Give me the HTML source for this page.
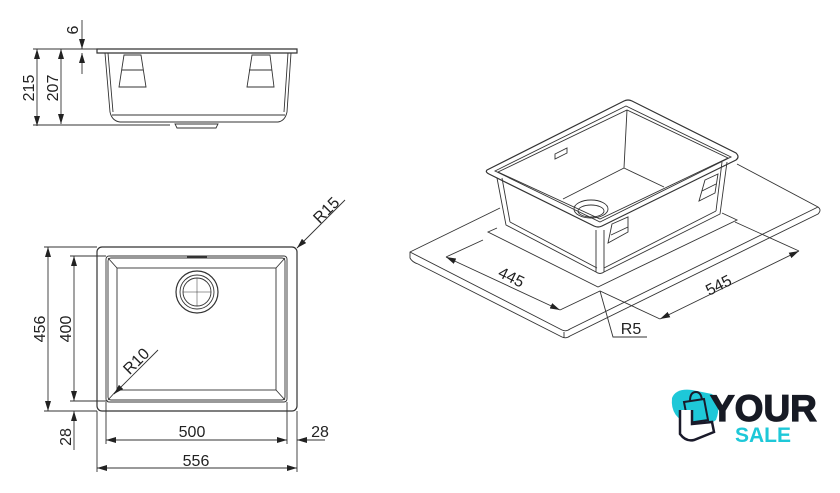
<!DOCTYPE html>
<html><head><meta charset="utf-8"><style>
html,body{margin:0;padding:0;background:#fff;width:840px;height:493px;overflow:hidden}
svg{display:block}
text{font-family:"Liberation Sans",sans-serif;fill:#222}
</style></head><body>
<svg width="840" height="493" viewBox="0 0 840 493" xmlns="http://www.w3.org/2000/svg">
<defs>
<marker id="a" viewBox="0 0 10 6" refX="10" refY="3" markerWidth="10" markerHeight="6" markerUnits="userSpaceOnUse" orient="auto-start-reverse"><path d="M0,0 L10,3 L0,6z" fill="#222"/></marker>
</defs>
<g fill="none" stroke="#333" stroke-width="0.9">
<!-- side view -->
<path d="M97,49 L297,49 L297,53 L97,53 Z" stroke-width="1.2"/>
<path d="M105,53 L110,112 Q112,121 120,122 L278,122 Q285,121 287,112 L291,53"/>
<path d="M108,53 L113,112 M288,53 L284,112 M112,115 L285,115"/>
<path d="M124,55 L141,55 L146,87 L119,87 Z M122,70 L143,70"/>
<path d="M252,55 L270,55 L274,87 L247,87 Z M249,70 L272,70"/>
<path d="M175,124 L218,124 L216,128 L177,128 Z"/>
<path d="M33,49 L97,49 M33,125 L170,125 M76,49 L93,49"/>
<line x1="37" y1="49" x2="37" y2="126" marker-start="url(#a)" marker-end="url(#a)"/>
<line x1="61" y1="49" x2="61" y2="124" marker-start="url(#a)" marker-end="url(#a)"/>
<line x1="82" y1="20" x2="82" y2="49" marker-end="url(#a)"/>
<line x1="82" y1="74" x2="82" y2="53" marker-end="url(#a)"/>
<!-- top view -->
<rect x="97" y="247" width="200" height="164" rx="5" stroke-width="1.2"/>
<rect x="106" y="256" width="181" height="146" rx="3"/>
<rect x="108" y="258" width="177" height="142" rx="3"/>
<rect x="117" y="268" width="159" height="122"/>
<path d="M108,258 L117,268 M285,258 L276,268 M108,400 L117,390 M285,400 L276,390"/>
<circle cx="197" cy="292" r="21" stroke-width="1.2"/>
<circle cx="197" cy="292" r="17"/>
<circle cx="197" cy="292" r="14"/>
<path d="M183,292 L211,292 M197,278 L197,306" stroke-width="0.5"/>
<path d="M187,257 L207,257" stroke-width="2"/>
<path d="M44,247 L97,247 M70,256 L106,256 M44,411 L97,411 M70,401 L108,401 M97,411 L97,472 M297,411 L297,472 M106,402 L106,444 M287,402 L287,444"/>
<line x1="48" y1="247" x2="48" y2="411" marker-start="url(#a)" marker-end="url(#a)"/>
<line x1="74" y1="256" x2="74" y2="401" marker-start="url(#a)" marker-end="url(#a)"/>
<line x1="74" y1="450" x2="74" y2="411" marker-end="url(#a)"/>
<line x1="106" y1="440" x2="287" y2="440" marker-start="url(#a)" marker-end="url(#a)"/>
<line x1="325" y1="440" x2="297" y2="440" marker-end="url(#a)"/>
<line x1="97" y1="468" x2="297" y2="468" marker-start="url(#a)" marker-end="url(#a)"/>
<line x1="345" y1="200" x2="297" y2="248" marker-end="url(#a)"/>
<line x1="158" y1="350" x2="114" y2="394" marker-end="url(#a)"/>
<!-- iso countertop -->
<path d="M500,208 L410,252 L410,258 Q412,262 418,264 L562,337 Q566,339 570,336 L818,214 Q822,210 818,207 L737,164"/>
<path d="M410,252 L562,330 Q566,332 570,329 L818,207"/>
<path d="M564,332 L564,338"/>
<path d="M497,228 L488,232 L598,287 L737,220 L722,213"/>
<!-- sink -->
<path d="M487,170 L624,101 Q628,99 632,101 L736,153 Q740,157 736,160 L602,226 Q598,228 594,226 L489,174 Q485,172 487,170 Z" stroke-width="1.2"/>
<path d="M495,171 L626,106 L731,157 L600,222 Z"/>
<path d="M498,172 L627,110 L728,158 L600,219 Z"/>
<path d="M627,110 L624,168 M624,168 L563,199 M624,168 L664,187"/>
<path d="M497,178 L506,225 L596,272 Q600,275 604,272 L720,214 L727,162"/>
<path d="M502,178 L510,222 M722,162 L716,211 M596,230 L596,272 M604,230 L604,272"/>
<path d="M510,222 L597,268 M604,268 L716,211"/>
<path d="M555,154 L567,148 L567,153 L555,159 Z"/>
<ellipse cx="591" cy="209" rx="17" ry="9"/>
<ellipse cx="591" cy="211" rx="13" ry="6"/>
<path d="M612,224 L628,217 L628,232 L608,243 Z M611,235 L628,227"/>
<path d="M705,180 L718,174 L715,193 L699,201 Z M702,191 L716,184"/>
<line x1="446" y1="257" x2="560" y2="310" marker-start="url(#a)" marker-end="url(#a)"/>
<line x1="660" y1="319" x2="799" y2="251" marker-start="url(#a)" marker-end="url(#a)"/>
<path d="M446,257 L483,240 M560,310 L600,291 L660,319 M799,251 L735,222"/>
<path d="M647,337 L613,337 L600,291"/>
</g>
<g font-size="16">
<text transform="translate(34,88) rotate(-90)" text-anchor="middle">215</text>
<text transform="translate(58,88) rotate(-90)" text-anchor="middle">207</text>
<text transform="translate(78,30) rotate(-90)" text-anchor="middle">6</text>
<text transform="translate(45,329) rotate(-90)" text-anchor="middle">456</text>
<text transform="translate(71,329) rotate(-90)" text-anchor="middle">400</text>
<text transform="translate(71,437) rotate(-90)" text-anchor="middle">28</text>
<text x="192" y="437" text-anchor="middle">500</text>
<text x="320" y="437" text-anchor="middle">28</text>
<text x="196" y="466" text-anchor="middle">556</text>
<text transform="translate(330,214) rotate(-45)" text-anchor="middle">R15</text>
<text transform="translate(140,365) rotate(-45)" text-anchor="middle">R10</text>
<text transform="translate(509,282) rotate(26)" text-anchor="middle">445</text>
<text transform="translate(721,290) rotate(-27)" text-anchor="middle">545</text>
<text x="631" y="334" text-anchor="middle">R5</text>
</g>
<!-- logo -->
<path d="M672,398 Q676,388 692,390 L712,394 Q722,404 716,420 Q706,428 690,424 Q670,418 672,398 Z" fill="#1ec8d8"/>
<path d="M684,402 L704,399 L708,420 L688,423 Z M690,401 Q690,392 696,392 Q701,392 702,400" fill="none" stroke="#1a1a2a" stroke-width="2"/>
<path d="M680,410 L680,434 Q686,442 694,440 L714,432 L712,422 L692,424 L692,410" fill="#fff" stroke="#1a1a2a" stroke-width="2.5"/>
<text x="710" y="421" font-size="37" font-weight="bold" style="fill:#171a24;stroke:#171a24;stroke-width:1.2">YOUR</text>
<text x="735" y="442" font-size="21" font-weight="bold" style="fill:#1ec8d8">SALE</text>
</svg>
</body></html>
